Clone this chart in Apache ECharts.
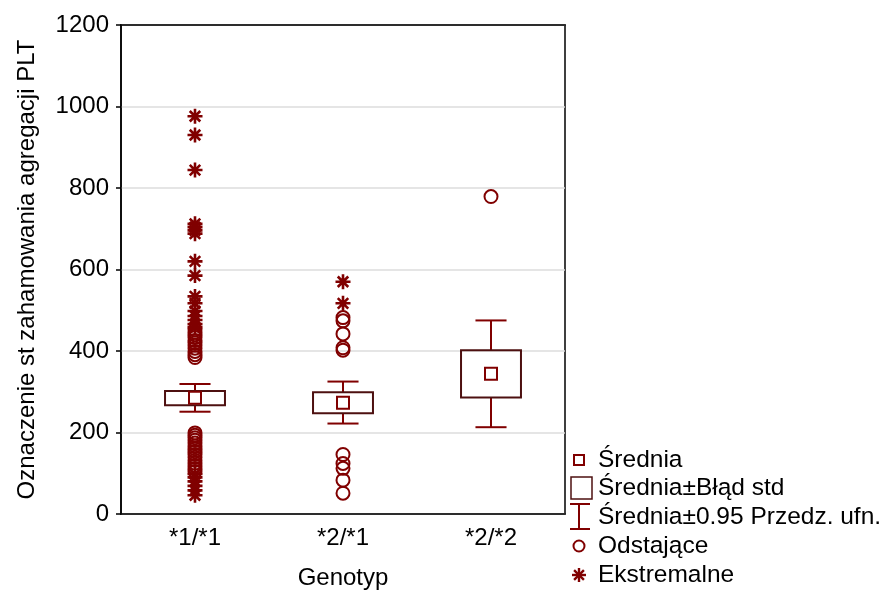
<!DOCTYPE html>
<html>
<head>
<meta charset="utf-8">
<script src="https://cdn.jsdelivr.net/npm/echarts@6/dist/echarts.min.js"></script>
<style>
  html, body { margin: 0; padding: 0; background: #fff; }
  #chart { width: 887px; height: 591px; }
</style>
</head>
<body>
<div id="chart"></div>
<script>
// Genotype groups on the x axis
const genotypes = ['*1/*1', '*2/*1', '*2/*2'];

// Mean, mean ± standard error, mean ± 0.95 confidence interval
const meanValues = [285, 273, 344];
const seLower = [267, 247, 286];
const seUpper = [302, 299, 402];
const ciLower = [251, 222, 213];
const ciUpper = [319, 325, 475];

// Outliers (circles) per genotype
const outliers11 = [452, 446, 440, 433, 426, 420, 414, 407, 399, 391, 384,
                    199, 193, 187, 181, 174, 167, 160, 153, 146, 139, 132, 125, 118, 111, 104];
const outliers21 = [482, 474, 442, 408, 402, 146, 124, 112, 83, 51];
const outliers22 = [779];

// Extreme values (asterisks) per genotype
const extremes11 = [976, 930, 844, 712, 704, 696, 688, 620, 585, 534, 517, 498, 486, 476, 466, 458,
                    98, 90, 80, 69, 58, 46];
const extremes21 = [570, 517];
const extremes22 = [];

// Y axis ticks
const yMin = 0;
const yMax = 1200;
const yStep = 200;

const dark = '#800000';
const boxColor = '#4d1010';
const font = 'Liberation Sans, Arial, sans-serif';

function toPoints(groups) {
  const pts = [];
  groups.forEach((vals, i) => vals.forEach(v => pts.push([i, v])));
  return pts;
}

const boxData = genotypes.map((g, i) => [i, ciLower[i], seLower[i], seUpper[i], ciUpper[i]]);
const meanData = genotypes.map((g, i) => [i, meanValues[i]]);

const asteriskPath = 'path://M6 0L6 12M0 6L12 6M1.8 1.8L10.2 10.2M10.2 1.8L1.8 10.2';

const chart = echarts.init(document.getElementById('chart'), null, { renderer: 'canvas' });

const legendX = 579;
const legendText = 598;
const rows = [460, 488, 517, 546, 575];

function starLines(cx, cy, r) {
  const d = r * 0.7;
  const st = { stroke: dark, lineWidth: 2.4 };
  return [
    { type: 'line', shape: { x1: cx, y1: cy - r, x2: cx, y2: cy + r }, style: st },
    { type: 'line', shape: { x1: cx - r, y1: cy, x2: cx + r, y2: cy }, style: st },
    { type: 'line', shape: { x1: cx - d, y1: cy - d, x2: cx + d, y2: cy + d }, style: st },
    { type: 'line', shape: { x1: cx + d, y1: cy - d, x2: cx - d, y2: cy + d }, style: st }
  ];
}

function legendLabel(y, text) {
  return { type: 'text', x: legendText, y: y,
    style: { text: text, font: '24.5px ' + font, fill: '#000', verticalAlign: 'middle' } };
}

chart.setOption({
  animation: false,
  backgroundColor: '#fff',
  grid: { left: 121, right: 322, top: 25, bottom: 77, show: true, borderColor: '#000', borderWidth: 1.5,
          containLabel: false, outerBoundsMode: 'none' },
  xAxis: [{
    type: 'category',
    data: genotypes,
    position: 'bottom',
    name: 'Genotyp',
    nameLocation: 'middle',
    nameGap: 52,
    nameTextStyle: { fontFamily: font, fontSize: 24, color: '#000' },
    axisLine: { lineStyle: { color: '#000', width: 1.5 } },
    axisTick: { alignWithLabel: true, length: 6, lineStyle: { color: '#000', width: 1.5 } },
    axisLabel: { fontFamily: font, fontSize: 24, color: '#000', margin: 12 },
    splitLine: { show: false }
  }, {
    type: 'category',
    data: genotypes,
    position: 'top',
    axisLine: { lineStyle: { color: '#000', width: 1.5 } },
    axisTick: { alignWithLabel: true, inside: true, length: 5, lineStyle: { color: '#000', width: 1.5 } },
    axisLabel: { show: false }
  }],
  yAxis: {
    type: 'value',
    min: yMin,
    max: yMax,
    interval: yStep,
    name: 'Oznaczenie st zahamowania agregacji PLT',
    nameLocation: 'middle',
    nameGap: 82,
    nameRotate: 90,
    nameTextStyle: { fontFamily: font, fontSize: 24, color: '#000' },
    axisLine: { show: true, lineStyle: { color: '#000', width: 1.5 } },
    axisTick: { show: true, length: 5, lineStyle: { color: '#000', width: 1.5 } },
    axisLabel: { fontFamily: font, fontSize: 24, color: '#000', margin: 12,
                 formatter: function (v) { return String(v); } },
    splitLine: { show: true, lineStyle: { color: '#dcdcdc', width: 1.5 } }
  },
  series: [{
    type: 'custom',
    name: 'box',
    xAxisIndex: 0,
    data: boxData,
    z: 3,
    renderItem: function (params, api) {
      const x = api.value(0);
      const pLo = api.coord([x, api.value(1)]);
      const pBoxLo = api.coord([x, api.value(2)]);
      const pBoxHi = api.coord([x, api.value(3)]);
      const pHi = api.coord([x, api.value(4)]);
      const band = api.size([1, 0])[0];
      const boxW = band * 0.405;
      const capW = band * 0.21;
      const cx = pLo[0];
      const wStyle = { stroke: dark, lineWidth: 2, fill: null };
      return {
        type: 'group',
        children: [
          { type: 'line', shape: { x1: cx, y1: pHi[1], x2: cx, y2: pBoxHi[1] }, style: wStyle },
          { type: 'line', shape: { x1: cx, y1: pBoxLo[1], x2: cx, y2: pLo[1] }, style: wStyle },
          { type: 'line', shape: { x1: cx - capW / 2, y1: pHi[1], x2: cx + capW / 2, y2: pHi[1] }, style: wStyle },
          { type: 'line', shape: { x1: cx - capW / 2, y1: pLo[1], x2: cx + capW / 2, y2: pLo[1] }, style: wStyle },
          { type: 'rect', shape: { x: cx - boxW / 2, y: pBoxHi[1], width: boxW, height: pBoxLo[1] - pBoxHi[1] },
            style: { stroke: boxColor, lineWidth: 2, fill: 'rgba(255,255,255,0)' } }
        ]
      };
    }
  }, {
    type: 'scatter',
    name: 'Średnia',
    xAxisIndex: 0,
    data: meanData,
    symbol: 'rect',
    symbolSize: 12,
    z: 5,
    itemStyle: { color: '#fff', borderColor: dark, borderWidth: 2, opacity: 1 }
  }, {
    type: 'scatter',
    name: 'Odstające',
    xAxisIndex: 0,
    data: toPoints([outliers11, outliers21, outliers22]),
    symbol: 'circle',
    symbolSize: 13,
    z: 4,
    itemStyle: { color: 'rgba(0,0,0,0)', borderColor: dark, borderWidth: 2, opacity: 1 }
  }, {
    type: 'scatter',
    name: 'Ekstremalne',
    xAxisIndex: 0,
    data: toPoints([extremes11, extremes21, extremes22]),
    symbol: asteriskPath,
    symbolSize: 15,
    z: 4,
    itemStyle: { color: 'rgba(0,0,0,0)', borderColor: dark, borderWidth: 2.6, opacity: 1 }
  }],
  graphic: [
    // legend: mean
    { type: 'rect', shape: { x: legendX - 5, y: rows[0] - 5, width: 10, height: 10 },
      style: { stroke: dark, lineWidth: 2, fill: '#fff' } },
    legendLabel(rows[0], 'Średnia'),
    // legend: mean ± standard error
    { type: 'rect', shape: { x: 571, y: rows[1] - 11, width: 21, height: 22 },
      style: { stroke: boxColor, lineWidth: 1.5, fill: '#fff' } },
    legendLabel(rows[1], 'Średnia±Błąd std'),
    // legend: mean ± 0.95 confidence interval
    { type: 'line', shape: { x1: legendX, y1: rows[2] - 13, x2: legendX, y2: rows[2] + 12 }, style: { stroke: dark, lineWidth: 2 } },
    { type: 'line', shape: { x1: 570, y1: rows[2] - 13, x2: 590, y2: rows[2] - 13 }, style: { stroke: dark, lineWidth: 2 } },
    { type: 'line', shape: { x1: 570, y1: rows[2] + 12, x2: 590, y2: rows[2] + 12 }, style: { stroke: dark, lineWidth: 2 } },
    legendLabel(rows[2], 'Średnia±0.95 Przedz. ufn.'),
    // legend: outliers
    { type: 'circle', shape: { cx: legendX, cy: rows[3], r: 5.5 }, style: { stroke: dark, lineWidth: 2, fill: null } },
    legendLabel(rows[3], 'Odstające'),
    // legend: extremes
    ...starLines(legendX, rows[4], 7),
    legendLabel(rows[4], 'Ekstremalne')
  ]
});
</script>
</body>
</html>
